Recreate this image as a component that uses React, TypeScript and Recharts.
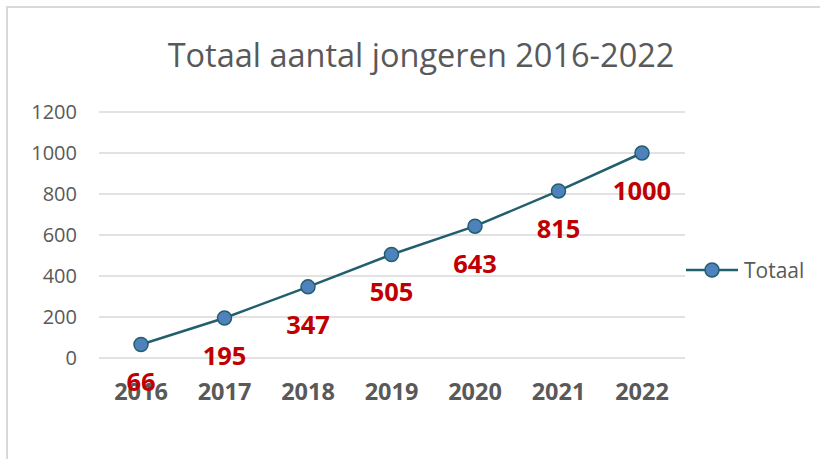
import React from 'react';
import { LineChart, Line, XAxis, YAxis, CartesianGrid, LabelList } from 'recharts';

const years = ['2016', '2017', '2018', '2019', '2020', '2021', '2022'];
const totaal = [66, 195, 347, 505, 643, 815, 1000];
const yTicks = [0, 200, 400, 600, 800, 1000, 1200];
const seriesName = 'Totaal';

const data = years.map((year, i) => ({ year, totaal: totaal[i] }));

const FONT = '"Open Sans", sans-serif';
const GREY = '#595959';
const LINE = '#215F6E';
const DOT = '#4F81BD';
const RED = '#C00000';

function YearTick(props: any) {
    const { x, y, payload } = props;
    return (
        <text x={x} y={y + 42} textAnchor="middle" fontFamily={FONT} fontSize={23.5} fontWeight={700} fill={GREY}>
            {payload.value}
        </text>
    );
}

function ValueLabel(props: any) {
    const { x, y, value } = props;
    return (
        <text x={x} y={y + 47} textAnchor="middle" fontFamily={FONT} fontSize={25.5} fontWeight={700} fill={RED}>
            {value}
        </text>
    );
}

// legend drawn by hand, Recharts' own Legend eats plot space
function LegendBox() {
    return (
        <svg width={134} height={34} style={{ position: 'absolute', left: 684, top: 254 }}>
            <line x1={2} y1={16} x2={54} y2={16} stroke={LINE} strokeWidth={2.5} />
            <circle cx={28} cy={16} r={7} fill={DOT} stroke={LINE} strokeWidth={1.5} />
            <text x={60} y={23.5} fontFamily={FONT} fontSize={21} fill={GREY}>{seriesName}</text>
        </svg>
    );
}

export default function App() {
    return (
        <div style={{ position: 'absolute', left: 0, top: 0, width: 820, height: 459, overflow: 'hidden', background: '#fff' }}>
            <div
                style={{
                    position: 'absolute',
                    left: 6,
                    top: 6,
                    width: 900,
                    height: 600,
                    borderTop: '2px solid #d9d9d9',
                    borderLeft: '2px solid #d9d9d9',
                }}
            />
            <svg width={820} height={90} style={{ position: 'absolute', left: 0, top: 0 }}>
                <text x={421} y={66.5} textAnchor="middle" fontFamily={FONT} fontSize={32.5} fill={GREY}>
                    Totaal aantal jongeren 2016-2022
                </text>
            </svg>
            <div style={{ position: 'absolute', left: 0, top: 0 }}>
                <LineChart
                    width={820}
                    height={459}
                    data={data}
                    margin={{ top: 112, right: 135, bottom: 0, left: 0 }}
                >
                    <CartesianGrid vertical={false} stroke="#d9d9d9" strokeWidth={1.5} />
                    <XAxis
                        dataKey="year"
                        axisLine={false}
                        tickLine={false}
                        tickSize={0}
                        tickMargin={0}
                        height={101}
                        padding={{ left: 42, right: 43 }}
                        tick={<YearTick />}
                        interval={0}
                    />
                    <YAxis
                        domain={[0, 1200]}
                        ticks={yTicks}
                        interval={0}
                        width={99}
                        axisLine={false}
                        tickLine={false}
                        tickSize={0}
                        tickMargin={22}
                        tick={{ fill: GREY, fontSize: 20, fontFamily: FONT }}
                    />
                    <Line
                        type="linear"
                        dataKey="totaal"
                        name={seriesName}
                        stroke={LINE}
                        strokeWidth={2.5}
                        dot={{ r: 7, fill: DOT, stroke: LINE, strokeWidth: 1.5 }}
                        isAnimationActive={false}
                    >
                        <LabelList dataKey="totaal" content={<ValueLabel />} />
                    </Line>
                </LineChart>
            </div>
            <LegendBox />
        </div>
    );
}
